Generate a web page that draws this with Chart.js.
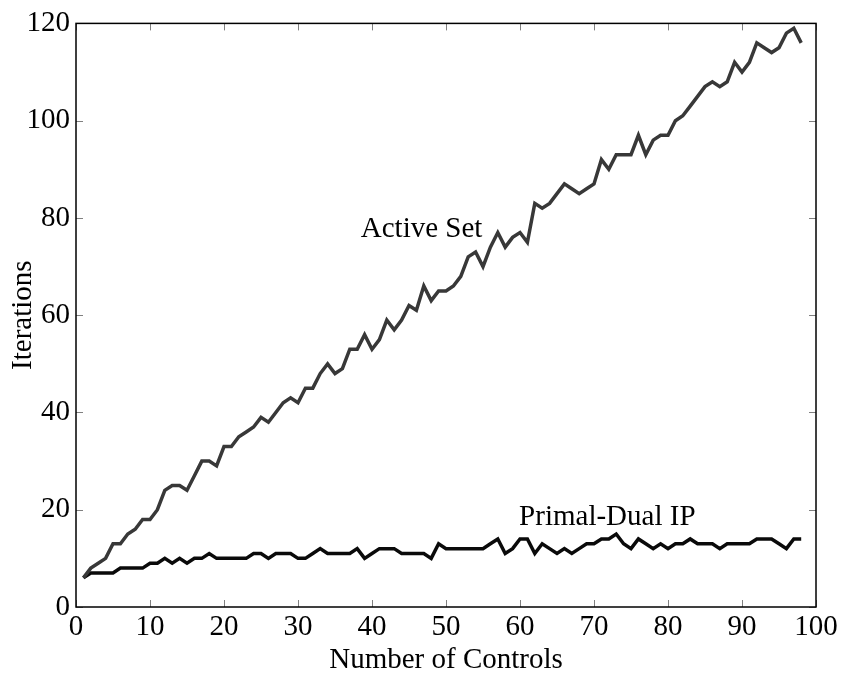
<!DOCTYPE html>
<html>
<head>
<meta charset="utf-8">
<script src="https://cdn.jsdelivr.net/npm/chart.js@4/dist/chart.umd.min.js"></script>
<style>
  html, body { margin: 0; padding: 0; background: #fff; }
  #wrap { width: 847px; height: 675px; }
</style>
</head>
<body>
<div id="wrap"><canvas id="c" width="847" height="675"></canvas></div>
<script>
const controls = [1,2,3,4,5,6,7,8,9,10,11,12,13,14,15,16,17,18,19,20,
  21,22,23,24,25,26,27,28,29,30,31,32,33,34,35,36,37,38,39,40,
  41,42,43,44,45,46,47,48,49,50,51,52,53,54,55,56,57,58,59,60,
  61,62,63,64,65,66,67,68,69,70,71,72,73,74,75,76,77,78,79,80,
  81,82,83,84,85,86,87,88,89,90,91,92,93,94,95,96,97,98];

const activeSet = [6,8,9,10,13,13,15,16,18,18,
  20,24,25,25,24,27,30,30,29,33,
  33,35,36,37,39,38,40,42,43,42,
  45,45,48,50,48,49,53,53,56,53,
  55,59,57,59,62,61,66,63,65,65,
  66,68,72,73,70,74,77,74,76,77,
  75,83,82,83,85,87,86,85,86,87,
  92,90,93,93,93,97,93,96,97,97,
  100,101,103,105,107,108,107,108,112,110,
  112,116,115,114,115,118,119,116];

const primalDual = [6,7,7,7,7,8,8,8,8,9,
  9,10,9,10,9,10,10,11,10,10,
  10,10,10,11,11,10,11,11,11,10,
  10,11,12,11,11,11,11,12,10,11,
  12,12,12,11,11,11,11,10,13,12,
  12,12,12,12,12,13,14,11,12,14,
  14,11,13,12,11,12,11,12,13,13,
  14,14,15,13,12,14,13,12,13,12,
  13,13,14,13,13,13,12,13,13,13,
  13,14,14,14,13,12,14,14];

const xTicks = [0,10,20,30,40,50,60,70,80,90,100];
const yTicks = [0,20,40,60,80,100,120];

const seriesNames = ['Active Set', 'Primal-Dual IP'];
// annotation anchors in data units (text baseline centre)
const labelAnchors = [[46.7, 76.0], [71.8, 16.8]];

const FONT = '"Liberation Serif", "Times New Roman", serif';
const FS = 29;

const framePlugin = {
  id: 'frame',
  afterDatasetsDraw(chart) {
    const {ctx, chartArea: a, scales: {x, y}} = chart;
    ctx.save();
    // inward ticks
    ctx.strokeStyle = '#808080';
    ctx.lineWidth = 1;
    const tl = 7;
    ctx.beginPath();
    xTicks.forEach(v => {
      const px = Math.round(x.getPixelForValue(v)) + 0.5;
      ctx.moveTo(px, a.bottom); ctx.lineTo(px, a.bottom - tl);
      ctx.moveTo(px, a.top); ctx.lineTo(px, a.top + tl);
    });
    yTicks.forEach(v => {
      const py = Math.round(y.getPixelForValue(v)) + 0.5;
      ctx.moveTo(a.left, py); ctx.lineTo(a.left + tl, py);
      ctx.moveTo(a.right, py); ctx.lineTo(a.right - tl, py);
    });
    ctx.stroke();
    // box
    ctx.strokeStyle = '#000';
    ctx.lineWidth = 1.5;
    ctx.strokeRect(a.left, a.top, a.right - a.left, a.bottom - a.top);
    // series labels
    ctx.fillStyle = '#000';
    ctx.font = FS + 'px ' + FONT;
    ctx.textAlign = 'center';
    ctx.textBaseline = 'alphabetic';
    seriesNames.forEach((name, i) => {
      const [lx, ly] = labelAnchors[i];
      ctx.fillText(name, x.getPixelForValue(lx), y.getPixelForValue(ly));
    });
    ctx.restore();
  }
};

new Chart(document.getElementById('c'), {
  type: 'line',
  data: {
    datasets: [
      {
        label: seriesNames[0],
        data: controls.map((c, i) => ({x: c, y: activeSet[i]})),
        borderColor: '#383838',
        borderWidth: 3.5,
        pointRadius: 0,
        tension: 0,
        fill: false
      },
      {
        label: seriesNames[1],
        data: controls.map((c, i) => ({x: c, y: primalDual[i]})),
        borderColor: '#0a0a0a',
        borderWidth: 3.5,
        pointRadius: 0,
        tension: 0,
        fill: false
      }
    ]
  },
  options: {
    responsive: false,
    animation: false,
    devicePixelRatio: 1,
    layout: { padding: { left: 0, right: 31, top: 21, bottom: 0 } },
    plugins: { legend: { display: false }, tooltip: { enabled: false } },
    scales: {
      x: {
        type: 'linear',
        min: 0, max: 100,
        afterBuildTicks: s => { s.ticks = xTicks.map(v => ({value: v})); },
        afterFit: s => { s.height = 68; },
        grid: { display: false, drawTicks: false },
        border: { display: false },
        ticks: { color: '#000', font: { family: FONT, size: FS }, padding: 3, maxRotation: 0 },
        title: { display: true, text: 'Number of Controls', color: '#000',
                 font: { family: FONT, size: FS, lineHeight: 1 }, padding: { top: 0, bottom: 0 } }
      },
      y: {
        type: 'linear',
        min: 0, max: 120,
        afterBuildTicks: s => { s.ticks = yTicks.map(v => ({value: v})); },
        afterFit: s => { s.width = 76; },
        grid: { display: false, drawTicks: false },
        border: { display: false },
        ticks: { color: '#000', font: { family: FONT, size: FS }, padding: 6 },
        title: { display: true, text: 'Iterations', color: '#000',
                 font: { family: FONT, size: FS, lineHeight: 1 }, padding: { top: 9, bottom: 0 } }
      }
    }
  },
  plugins: [framePlugin]
});
</script>
</body>
</html>
